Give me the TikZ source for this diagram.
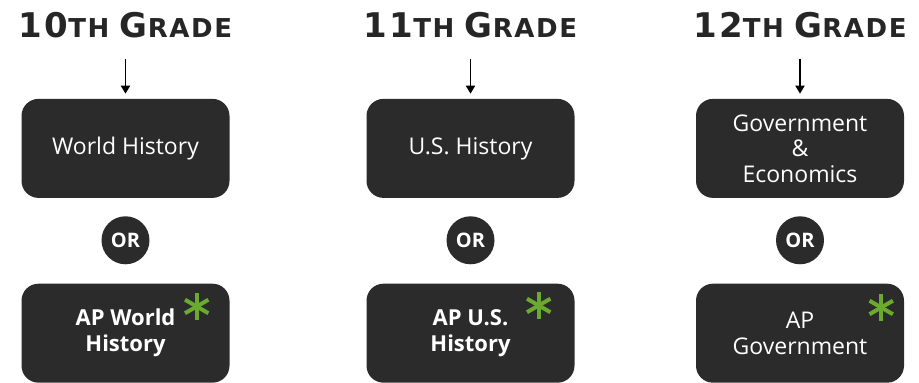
\documentclass[tikz,border=0pt]{standalone}
\usepackage{fontspec}
\setsansfont{Open Sans}
\newfontfamily\titlefont[LetterSpace=6]{DejaVu Sans}
\usetikzlibrary{positioning,arrows.meta}
\definecolor{boxgray}{HTML}{2B2B2B}
\definecolor{stargreen}{HTML}{6AAA2E}
\newcommand{\gradename}[1]{{\fontsize{34}{34}\selectfont #1}{\fontsize{26}{26}\selectfont TH }{\fontsize{34}{34}\selectfont G}{\fontsize{26}{26}\selectfont RADE}}
\tikzset{
course/.style={rounded corners=17pt, fill=boxgray, text=white, minimum width=208pt, minimum height=99pt, align=center, font=\sffamily\fontsize{23}{25.5}\selectfont},
apcourse/.style={course, font=\sffamily\bfseries\fontsize{22}{26}\selectfont},
ornode/.style={circle, fill=boxgray, text=white, minimum size=48pt, inner sep=0pt, font=\sffamily\bfseries\fontsize{20}{20}\selectfont},
gradetitle/.style={inner sep=0pt, anchor=base, text=black!85, font=\titlefont\bfseries},
down/.style={line width=1.8pt, -{Triangle[width=9pt,length=8pt]}, shorten <=20pt, shorten >=5pt},
apstar/.style={stargreen, line width=4pt}
}
\begin{document}
\begin{tikzpicture}[x=1pt,y=1pt]
\useasboundingbox (0,0) rectangle (919,383);
%Titles
\node[gradetitle] (tenth)    at (125.5,345) {\gradename{10}};
\node[gradetitle] (eleventh) at (470.5,345) {\gradename{11}};
\node[gradetitle] (twelfth)  at (800,345)   {\gradename{12}};
%Courses
\node[course]   (world)   [below=60pt of tenth]    {World History};
\node[ornode]   (orten)   [below=18pt of world]    {OR};
\node[apcourse] (apworld) [below=19pt of orten]    {AP World\\History};

\node[course]   (us)      [below=60pt of eleventh] {U.S. History};
\node[ornode]   (oreleven)[below=18pt of us]       {OR};
\node[apcourse] (apus)    [below=19pt of oreleven] {AP U.S.\\History};

\node[course]   (gov)     [below=60pt of twelfth]  {Government\\\&\\Economics};
\node[ornode]   (ortwelve)[below=18pt of gov]      {OR};
\node[course]   (apgov)   [below=19pt of ortwelve] {AP\\Government};
%Arrows
\draw[down] (tenth) -- (world);
\draw[down] (eleventh) -- (us);
\draw[down] (twelfth) -- (gov);
%Stars
\coordinate (starworld) at ([xshift=-33pt,yshift=-23pt]apworld.north east);
\coordinate (starus)    at ([xshift=-36pt,yshift=-22pt]apus.north east);
\coordinate (stargov)   at ([xshift=-23pt,yshift=-24pt]apgov.north east);
\foreach \s in {starworld,starus,stargov}
  \foreach \a in {90,30,150}
    \draw[apstar,shift={(\s)}] (\a:13.5) -- (\a+180:13.5);
\end{tikzpicture}
\end{document}
